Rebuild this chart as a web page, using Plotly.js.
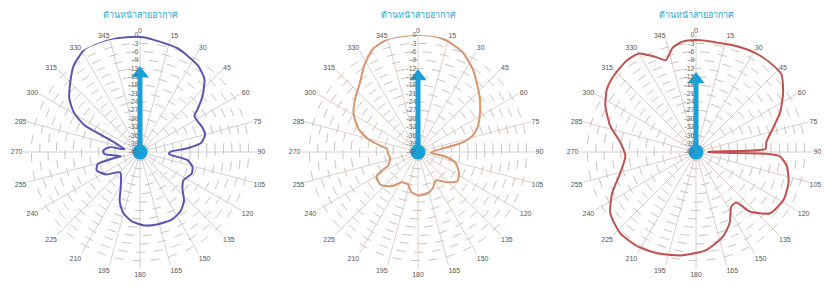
<!DOCTYPE html>
<html>
<head>
<meta charset="utf-8">
<script src="https://cdn.plot.ly/plotly-3.0.1.min.js"></script>
<style>html,body{margin:0;padding:0;background:#fff;}#chart{width:824px;height:288px;}</style>
</head>
<body>
<div id="chart"></div>
<script>
// Chart title text (same for each pattern)
const panelTitle = "ด้านหน้าสายอากาศ";

// Angular tick labels (degrees)
const angleTicks = [0,15,30,45,60,75,90,105,120,135,150,165,180,195,210,225,240,255,270,285,300,315,330,345];
// Radial ticks (dB)
const radialTicks = [0,-3,-6,-9,-12,-15,-18,-21,-24,-27,-30,-33,-36,-39,-42];
const radialRange = [-42, 0];

// Pattern 1 (blue-purple)
const theta1 = [1.7,19.8,33.6,41.3,48.1,53.5,56.5,69,75,81.7,85.5,89.4,94,99.7,105.9,112.8,123.3,131,138,145.4,154.5,166.8,177.4,187,195.6,202.6,208.7,224,236.6,247,254,256.7,257.7,266.7,272,279,280,290.4,293.9,296,300.8,306.9,315,322.7,332.4,343.3,353.3,1.7];
const r1 = [-0.8,-2.4,-4.6,-7.0,-11.8,-16.3,-18.6,-17.9,-17.8,-19.9,-24.9,-31,-31.6,-24.7,-22.4,-21.9,-23.4,-21.8,-18.4,-16.3,-15.2,-15.3,-15.7,-17,-19.4,-23,-27.6,-31.8,-27.4,-25.1,-26.2,-32,-35,-29.2,-28.8,-30.9,-36.4,-32.3,-26,-19.6,-14.4,-10.3,-6.6,-2.8,0,0,-0.5,-0.8];

// Pattern 2 (orange)
const theta2 = [0.3,6.9,13.8,23.9,33.1,41.8,49.3,59.6,67.6,73.5,78,81,93,98.9,106,117,126.6,136,148,157.6,167.7,179,189.6,197,208,217.4,229.4,239.7,243,245.6,258.4,267.5,276,279.5,284.4,291,300.4,310,320.2,328.2,336.7,345.5,352,0.3];
const r2 = [0,0,-0.6,-2.7,-6.2,-10,-12.7,-16.3,-18.9,-21.6,-25.7,-32,-37.5,-32.6,-28,-25.5,-24.4,-26.9,-30,-28,-26.7,-26.4,-27.4,-29.8,-29.7,-26.5,-24.1,-24.8,-27.8,-30.3,-31.8,-31.2,-30.8,-28.2,-23.6,-19.2,-15.2,-12.5,-9.5,-5.4,-1.5,0,0,0];

// Pattern 3 (red)
const theta3 = [0,5.1,10.4,20.7,31.6,40.1,47.6,55.6,64.7,74.4,82,87.5,88.5,90.5,91.5,93,98.8,108.5,118.6,129.6,137.9,141.3,147,154.8,162.4,174.1,187.4,200,211.1,222.9,234.5,243.9,254.6,266.7,277,287,297,305.4,314.2,323.1,329.9,337,341.8,347.3,353,0];
const r3 = [-1.8,-1.9,-2,-1.3,-0.5,-0.3,-0.5,-4.1,-8.6,-13.8,-16.5,-17,-37.5,-37.5,-16.7,-11.8,-9,-7,-6.2,-7.5,-13.2,-18.8,-18.7,-13.7,-10.1,-6.6,-4.6,-3.2,-2.2,-2.1,-4.2,-8.5,-13.8,-16.6,-14.7,-9.8,-5.5,-2.8,-1.6,-0.8,-1.1,-4.9,-7.3,-3.7,-2.1,-1.8];

// Arrow tip level for each panel (dB on the 0° ray)
const arrowTip = [-11.2, -12.3, -13.4];

const patterns = [
  {theta: theta1, r: r1, color: '#5a54b4', grid: '#c6c6ca', spoke: '#d2d2d6'},
  {theta: theta2, r: r2, color: '#d8946c', grid: '#cbc4c0', spoke: '#dfd0c8'},
  {theta: theta3, r: r3, color: '#c2504e', grid: '#cbc2c2', spoke: '#dfcccc'}
];
const centers = [140, 418, 696];
const R = 117;
const arrowColor = '#1aa0d8';

const data = [];
const layout = {
  width: 824, height: 288,
  margin: {l: 0, r: 0, t: 0, b: 0},
  paper_bgcolor: '#ffffff',
  showlegend: false,
  font: {family: 'Liberation Sans, Arial, sans-serif'},
  annotations: []
};

patterns.forEach((p, i) => {
  const key = i === 0 ? 'polar' : 'polar' + (i + 1);
  data.push({
    type: 'scatterpolar', mode: 'lines', subplot: key,
    theta: p.theta, r: p.r,
    line: {color: p.color, width: 2, shape: 'spline', smoothing: 0.6},
    hoverinfo: 'skip'
  });
  data.push({
    type: 'scatterpolar', mode: 'lines', subplot: key,
    theta: [0, 0], r: [radialRange[0], arrowTip[i] - 3.5],
    line: {color: arrowColor, width: 5}, hoverinfo: 'skip'
  });
  data.push({
    type: 'scatterpolar', mode: 'markers', subplot: key,
    theta: [0], r: [arrowTip[i] - 2.6],
    marker: {symbol: 'triangle-up', size: 15, color: arrowColor},
    cliponaxis: false, hoverinfo: 'skip'
  });
  data.push({
    type: 'scatterpolar', mode: 'markers', subplot: key,
    theta: [0], r: [radialRange[0]],
    marker: {symbol: 'circle', size: 15, color: arrowColor},
    cliponaxis: false, hoverinfo: 'skip'
  });
  const cx = centers[i];
  layout[key] = {
    domain: {x: [(cx - R) / 824, (cx + R) / 824], y: [(288 - 152 - R) / 288, (288 - 152 + R) / 288]},
    bgcolor: 'rgba(0,0,0,0)',
    radialaxis: {
      range: radialRange, tickmode: 'array', tickvals: radialTicks,
      ticktext: radialTicks.map(String),
      angle: 90, tickangle: 90, side: 'counterclockwise',
      showline: false, ticks: '',
      gridcolor: p.grid, griddash: 'dash', gridwidth: 1,
      tickfont: {size: 7, color: '#666'}
    },
    angularaxis: {
      direction: 'clockwise', rotation: 90,
      tickmode: 'array', tickvals: angleTicks, ticktext: angleTicks.map(String),
      showline: false, ticks: '',
      gridcolor: p.spoke, gridwidth: 1,
      tickfont: {size: 7, color: '#555'}
    }
  };
  layout.annotations.push({
    xref: 'paper', yref: 'paper',
    x: cx / 824, y: 1 - 14 / 288, xanchor: 'center', yanchor: 'middle',
    text: panelTitle, showarrow: false,
    font: {family: 'Noto Sans, sans-serif', size: 9, color: '#2aa8dc'}
  });
});

Plotly.newPlot('chart', data, layout, {staticPlot: true, displayModeBar: false});
</script>
</body>
</html>
